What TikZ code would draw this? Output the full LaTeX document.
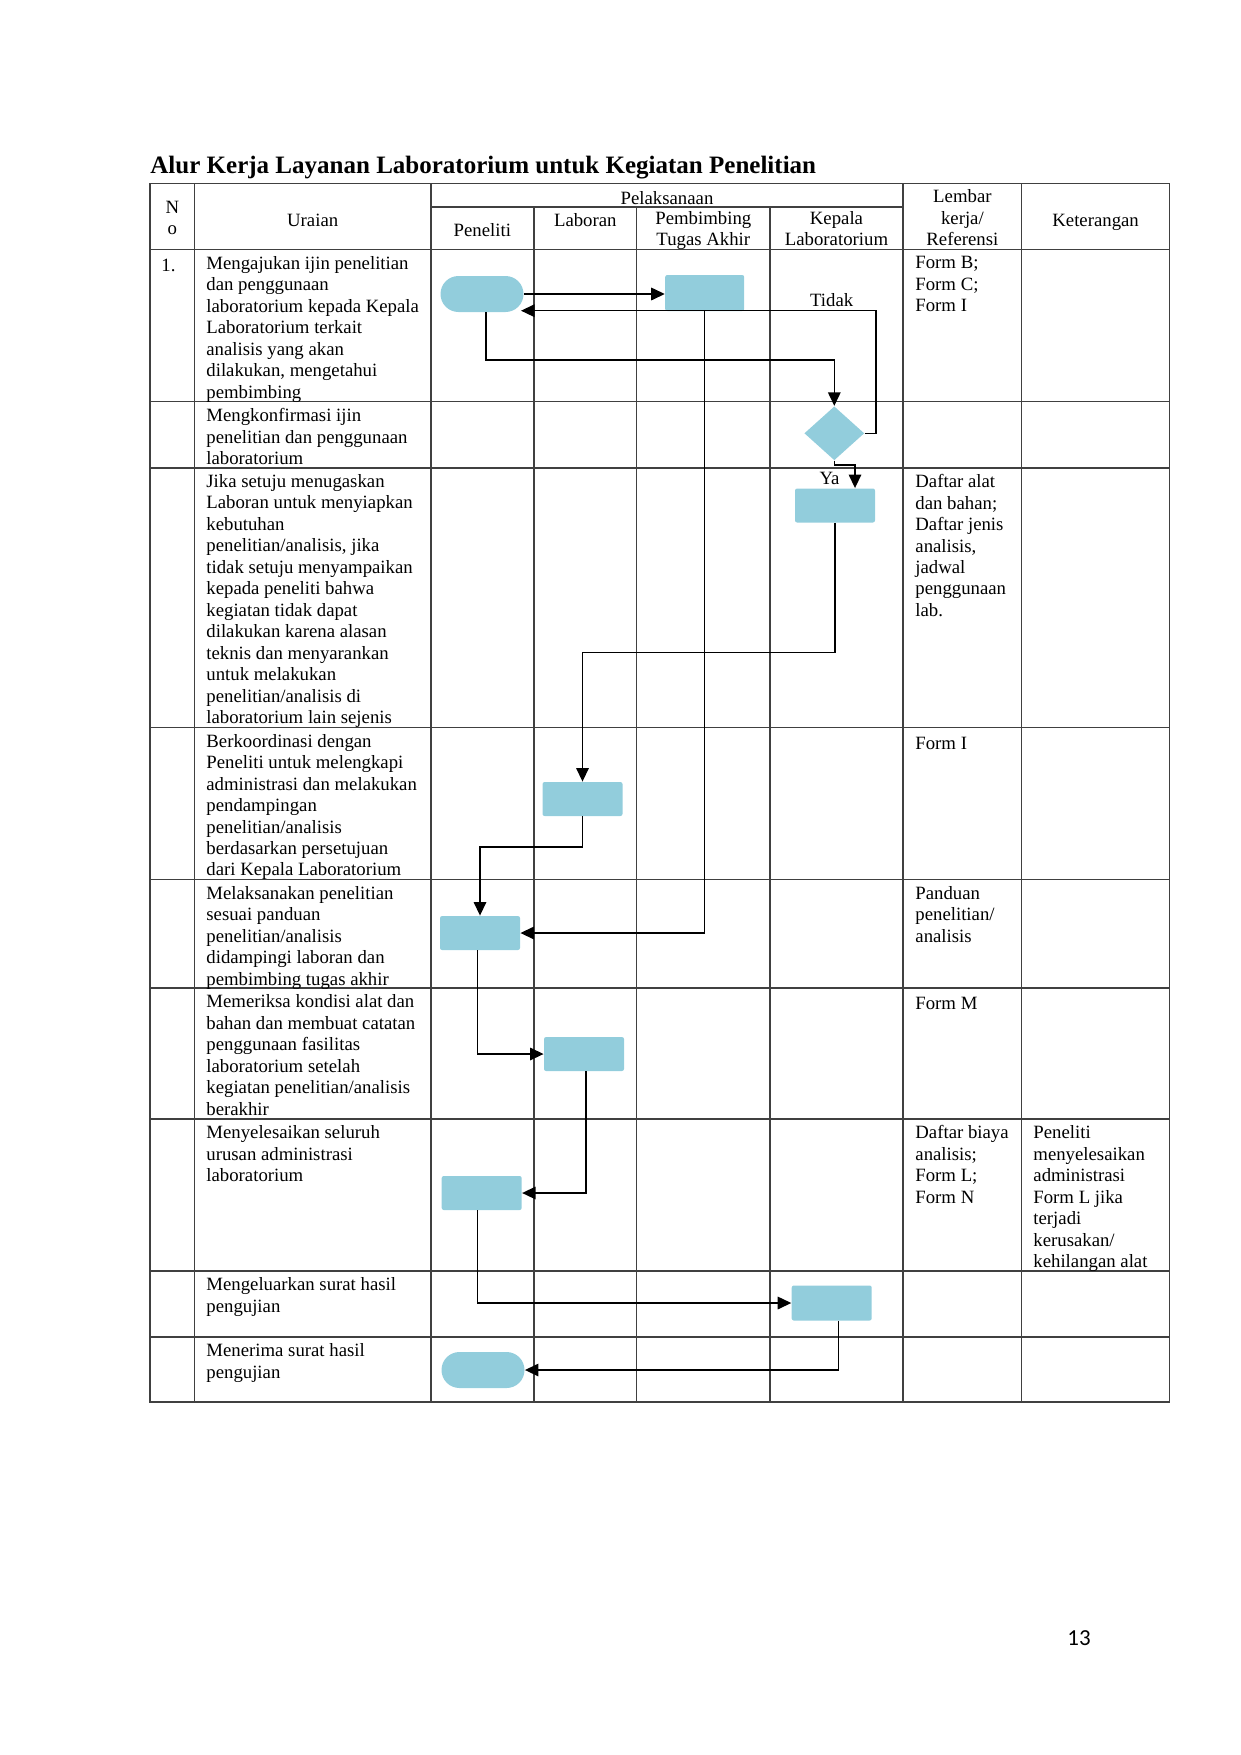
\documentclass[tikz,border=0pt]{standalone}
\usepackage{fontspec}
\setmainfont{Liberation Serif}
\newfontfamily\pagefont{Carlito}
\usetikzlibrary{arrows.meta, shapes.geometric, calc}
\def\px{0.4797pt}
\definecolor{boxblue}{HTML}{92CDDC}

\tikzset{
  cell/.style={font=\fontsize{9}{10.3}\selectfont, inner sep=0pt, align=left,
    anchor=north west, execute at begin node=\strut},
  head/.style={cell, align=center, anchor=north},
  lbl/.style={font=\fontsize{9}{10.3}\selectfont, inner sep=0pt, anchor=base},
  grid/.style={draw=black!75, line width=0.75pt},
  proc/.style={fill=boxblue, minimum width=80*\px, minimum height=34*\px,
    inner sep=0pt, rounded corners=1pt},
  term/.style={proc, minimum width=83*\px, minimum height=36*\px, rounded corners=8.6pt},
  decision/.style={diamond, fill=boxblue, minimum width=60*\px, minimum height=54*\px,
    inner sep=0pt},
  flow/.style={draw, line width=0.75pt, -{Triangle[length=6.5pt,width=6pt]}},
}

\begin{document}
\begin{tikzpicture}[x=\px, y=-\px]
    \useasboundingbox (0,0) rectangle (1241,1755);

    % title
    \node [font=\fontsize{12}{14}\selectfont\bfseries, inner sep=0pt, anchor=base west]
      (title) at (150,173.5) {Alur Kerja Layanan Laboratorium untuk Kegiatan Penelitian};

    % table
    \draw [grid] (150,183.5) rectangle (1169.4,1402);
    \draw [grid] (194.7,183.5) -- (194.7,1402);
    \draw [grid] (430.8,183.5) -- (430.8,1402);
    \draw [grid] (533.8,207) -- (533.8,1402);
    \draw [grid] (636.7,207) -- (636.7,1402);
    \draw [grid] (769.9,207) -- (769.9,1402);
    \draw [grid] (903,183.5) -- (903,1402);
    \draw [grid] (1021.7,183.5) -- (1021.7,1402);
    \draw [grid] (430.8,207) -- (903,207);
    \foreach \y in {249.5,401.7,467.8,727.4,879.6,988,1119,1271,1337}
      \draw [grid] (150,\y) -- (1169.4,\y);

    % header
    \node [head] (hNo) at (172.4,200.5) {N\\o};
    \node [head] (hUraian) at (312.7,211) {Uraian};
    \node [head] (hPelaksanaan) at (667,189.5) {Pelaksanaan};
    \node [head] (hPeneliti) at (482.3,221.5) {Peneliti};
    \node [head] (hLaboran) at (585.3,211) {Laboran};
    \node [head] (hPembimbing) at (703.3,211) {Pembimbing\\Tugas Akhir};
    \node [head] (hKepala) at (836.5,211) {Kepala\\Laboratorium};
    \node [head] (hLembar) at (962.4,189.5) {Lembar\\kerja/\\Referensi};
    \node [head] (hKet) at (1095.6,211) {Keterangan};

    % rows
    \node [cell] (no1) at (161,256) {1.};
    \node [cell] (ur1) at (206,256) {Mengajukan ijin penelitian\\dan penggunaan\\laboratorium kepada Kepala\\Laboratorium terkait\\analisis yang akan\\dilakukan, mengetahui\\pembimbing};
    \node [cell] (ur2) at (206,408) {Mengkonfirmasi ijin\\penelitian dan penggunaan\\laboratorium};
    \node [cell] (ur3) at (206,474) {Jika setuju menugaskan\\Laboran untuk menyiapkan\\kebutuhan\\penelitian/analisis, jika\\tidak setuju menyampaikan\\kepada peneliti bahwa\\kegiatan tidak dapat\\dilakukan karena alasan\\teknis dan menyarankan\\untuk melakukan\\penelitian/analisis di\\laboratorium lain sejenis};
    \node [cell] (ur4) at (206,733.7) {Berkoordinasi dengan\\Peneliti untuk melengkapi\\administrasi dan melakukan\\pendampingan\\penelitian/analisis\\berdasarkan persetujuan\\dari Kepala Laboratorium};
    \node [cell] (ur5) at (206,885.9) {Melaksanakan penelitian\\sesuai panduan\\penelitian/analisis\\didampingi laboran dan\\pembimbing tugas akhir};
    \node [cell] (ur6) at (206,994.3) {Memeriksa kondisi alat dan\\bahan dan membuat catatan\\penggunaan fasilitas\\laboratorium setelah\\kegiatan penelitian/analisis\\berakhir};
    \node [cell] (ur7) at (206,1125.3) {Menyelesaikan seluruh\\urusan administrasi\\laboratorium};
    \node [cell] (ur8) at (206,1277.3) {Mengeluarkan surat hasil\\pengujian};
    \node [cell] (ur9) at (206,1343.3) {Menerima surat hasil\\pengujian};

    \node [cell] (ref1) at (915,256) {Form B;\\Form C;\\Form I};
    \node [cell] (ref3) at (915,474) {Daftar alat\\dan bahan;\\Daftar jenis\\analisis,\\jadwal\\penggunaan\\lab.};
    \node [cell] (ref4) at (915,733.7) {Form I};
    \node [cell] (ref5) at (915,885.9) {Panduan\\penelitian/\\analisis};
    \node [cell] (ref6) at (915,994.3) {Form M};
    \node [cell] (ref7) at (915,1125.3) {Daftar biaya\\analisis;\\Form L;\\Form N};
    \node [cell] (ket7) at (1033,1125.3) {Peneliti\\menyelesaikan\\administrasi\\Form L jika\\terjadi\\kerusakan/\\kehilangan alat};

    % flow shapes
    \node [term] (start) at (482,294) {};
    \node [proc, minimum width=79*\px, minimum height=36*\px] (pbReview) at (704.7,293) {};
    \node [decision] (decide) at (834.3,433.3) {};
    \node [proc] (kpApprove) at (835,505.5) {};
    \node [proc] (lbCoord) at (582.5,799) {};
    \node [proc] (plRun) at (480,933) {};
    \node [proc] (lbCheck) at (584,1054) {};
    \node [proc] (plAdmin) at (481.7,1193) {};
    \node [proc, minimum height=35*\px] (kpIssue) at (831.7,1303) {};
    \node [term] (finish) at (483,1370) {};

    \coordinate (retIn) at (521,310.7);

    % connectors
    \draw [flow] (start.east) -- (start.east -| pbReview.west);
    \draw [flow] (decide.east) -- ++(11,0) |- (retIn);
    \draw [flow] ([xshift=4*\px]start.south) -- ++(0,47.3) -| (decide.north);
    \draw [flow] (decide.south) -- ++(0,4) -| ([xshift=20*\px]kpApprove.north);
    \draw [flow] (kpApprove.south) -- ++(0,129.6) -| (lbCoord.north);
    \draw [flow] (pbReview.south) |- (plRun.east);
    \draw [flow] (lbCoord.south) -- ++(0,30.7) -| (plRun.north);
    \draw [flow] ([xshift=-2.7*\px]plRun.south) |- (lbCheck.west);
    \draw [flow] ([xshift=2*\px]lbCheck.south) |- (plAdmin.east);
    \draw [flow] ([xshift=-4.4*\px]plAdmin.south) |- (kpIssue.west);
    \draw [flow] ([xshift=6.6*\px]kpIssue.south) |- (finish.east);

    \node [lbl] (tidak) at (831.7,306.7) {Tidak};
    \node [lbl] (ya) at (829.5,484.3) {Ya};

    % page number
    \node [font=\pagefont\fontsize{11}{13}\selectfont, inner sep=0pt, anchor=base]
      (pageNo) at (1079,1645) {13};
\end{tikzpicture}
\end{document}
